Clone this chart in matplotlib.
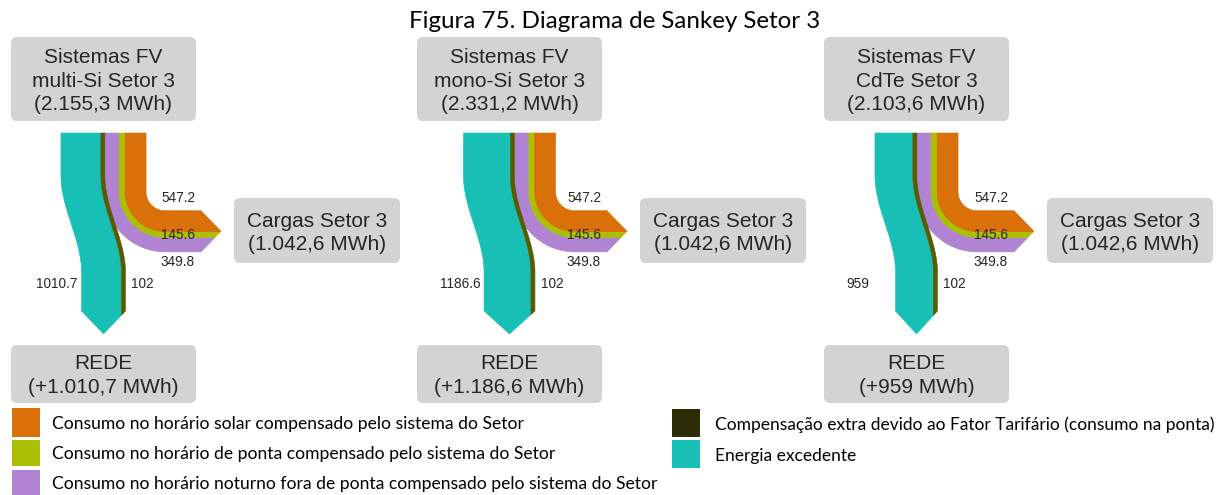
import numpy as np
import matplotlib
matplotlib.use("Agg")
import matplotlib.pyplot as plt
from matplotlib.patches import Polygon, FancyBboxPatch, Rectangle

# ---- data (MWh) ----
title = "Figura 75. Diagrama de Sankey Setor 3"
source_names = ["Sistemas FV\nmulti-Si Setor 3", "Sistemas FV\nmono-Si Setor 3", "Sistemas FV\nCdTe Setor 3"]
generation = [2155.3, 2331.2, 2103.6]
solar_comp = [547.2, 547.2, 547.2]
peak_comp = [145.6, 145.6, 145.6]
night_comp = [349.8, 349.8, 349.8]
tariff_extra = [102, 102, 102]
surplus = [1010.7, 1186.6, 959]
load_name = "Cargas Setor 3"
grid_name = "REDE"

legend_left = ["Consumo no horário solar compensado pelo sistema do Setor",
               "Consumo no horário de ponta compensado pelo sistema do Setor",
               "Consumo no horário noturno fora de ponta compensado pelo sistema do Setor"]
legend_right = ["Compensação extra devido ao Fator Tarifário (consumo na ponta)",
                "Energia excedente"]

# ---- styling ----
C_SOLAR = "#d9700a"
C_PEAK = "#abc000"
C_NIGHT = "#b084d2"
C_EXTRA = "#575b02"
C_EXTRA_LEG = "#2d2e08"
C_SURPLUS = "#17bfb5"
C_BOX = "#d3d3d3"
C_TXT = "#262626"

SANS = ["Liberation Sans", "DejaVu Sans"]
CAL = ["Lato", "DejaVu Sans"]

K = 0.0395            # pixels per MWh
PANEL_X = [11, 417, 824]
BOX_W = 185
Y_TOP = 133           # top of the flows
R_IN = 19             # inner radius of the turn towards the loads
Y_HTOP = 210.7        # upper edge of the horizontal branch
X_END = 190           # end of horizontal branch (relative to panel)
TIP_R = 20
Y1, Y2, Y_END, TIP_D = 176, 272, 311, 23
LEFT_LABEL_DX = [66, 64, 45]


def br(v):
    s = f"{v:,.1f}" if v != int(v) else f"{int(v):,}"
    return s.replace(",", "#").replace(".", ",").replace("#", ".")


def smooth(t):
    t = np.clip(t, 0, 1)
    return t * t * (3 - 2 * t)


fig = plt.figure(figsize=(12.22, 4.95), dpi=100)
ax = fig.add_axes([0, 0, 1, 1])
ax.set_xlim(0, 1222)
ax.set_ylim(495, 0)
ax.axis("off")


def box(x, y, w, h):
    ax.add_patch(FancyBboxPatch((x, y), w, h, boxstyle="round,pad=0,rounding_size=6",
                                fc=C_BOX, ec="none", zorder=1))


def band(path0, path1, kink, color):
    pts = list(path0)
    if kink is not None:
        pts.append(kink)
    pts += list(reversed(path1))
    ax.add_patch(Polygon(pts, closed=True, fc=color, ec=color, lw=0.4, zorder=2))


for i, x0 in enumerate(PANEL_X):
    cx = x0 + BOX_W / 2
    vals_right = [solar_comp[i], peak_comp[i], night_comp[i]]
    cols_right = [C_SOLAR, C_PEAK, C_NIGHT]
    vals_down = [surplus[i], tariff_extra[i]]
    cols_down = [C_SURPLUS, C_EXTRA]
    W = generation[i] * K
    Wr = sum(vals_right) * K
    Wd = sum(vals_down) * K

    # ---- branch to the loads (turns right) ----
    xi = cx + W / 2
    yc = Y_HTOP - R_IN
    cxa = xi + R_IN
    xe = x0 + X_END

    def rpath(s):
        R = R_IN + s
        th = np.linspace(np.pi, np.pi / 2, 50)
        pts = [(xi - s, Y_TOP)]
        pts += list(zip(cxa + R * np.cos(th), yc + R * np.sin(th)))
        f = 1 - abs(s - Wr / 2) / (Wr / 2)
        pts += [(xe, yc + R), (xe + TIP_R * f, yc + R)]
        return pts

    s0 = 0.0
    for v, c in zip(vals_right, cols_right):
        s1 = s0 + v * K
        kink = (xe + TIP_R, yc + R_IN + Wr / 2) if s0 < Wr / 2 < s1 else None
        band(rpath(s0), rpath(s1), kink, c)
        s0 = s1

    # ---- branch to the grid (S-curve down) ----
    xl = cx - W / 2
    shift = (W - Wd) / 2
    ys = np.linspace(Y_TOP, Y_END, 150)

    def dpath(s):
        xs = xl + s + shift * smooth((ys - Y1) / (Y2 - Y1))
        f = 1 - abs(s - Wd / 2) / (Wd / 2)
        return list(zip(xs, ys)) + [(xs[-1], Y_END + TIP_D * f)]

    s0 = 0.0
    for v, c in zip(vals_down, cols_down):
        s1 = s0 + v * K
        kink = (xl + Wd / 2 + shift, Y_END + TIP_D) if s0 < Wd / 2 < s1 else None
        band(dpath(s0), dpath(s1), kink, c)
        s0 = s1

    # ---- nodes ----
    box(x0, 37, BOX_W, 84)
    lines = source_names[i].split("\n") + [f"({br(generation[i])} MWh)"]
    for j, t in enumerate(lines):
        ax.text(cx, 63.3 + 23.3 * j, t, ha="center", va="baseline", fontsize=15,
                family=SANS, color=C_TXT, zorder=3)

    lx = x0 + 223
    box(lx, 198, 166, 65)
    load_total = sum(vals_right)
    ax.text(lx + 83, 226.7, load_name, ha="center", va="baseline", fontsize=15,
            family=SANS, color=C_TXT, zorder=3)
    ax.text(lx + 83, 250, f"({br(load_total)} MWh)", ha="center", va="baseline",
            fontsize=15, family=SANS, color=C_TXT, zorder=3)

    box(x0, 345, BOX_W, 58)
    ax.text(cx, 369.3, grid_name, ha="center", va="baseline", fontsize=15,
            family=SANS, color=C_TXT, zorder=3)
    ax.text(cx, 392.7, f"(+{br(surplus[i])} MWh)", ha="center", va="baseline",
            fontsize=15, family=SANS, color=C_TXT, zorder=3)

    # ---- flow values ----
    for v, yv in zip(vals_right, [198, 235, 262]):
        ax.text(x0 + 167, yv, f"{v:g}", ha="center", va="center", fontsize=9.8,
                family=SANS, color=C_TXT, zorder=4)
    ax.text(x0 + LEFT_LABEL_DX[i], 284, f"{surplus[i]:g}", ha="right", va="center",
            fontsize=9.8, family=SANS, color=C_TXT, zorder=4)
    ax.text(cx + Wd / 2 + 6, 284, f"{tariff_extra[i]:g}", ha="left", va="center",
            fontsize=9.8, family=SANS, color=C_TXT, zorder=4)

# ---- title ----
ax.text(615, 28, title, ha="center", va="baseline", fontsize=17.4, family=CAL, color="black")

# ---- legend ----
for (y0, y1), lab, c in zip([(408, 437), (440, 466), (470, 495)], legend_left,
                            [C_SOLAR, C_PEAK, C_NIGHT]):
    ax.add_patch(Rectangle((12, y0), 28, y1 - y0, fc=c, ec="none"))
    ax.text(52, (y0 + y1) / 2 + 1, lab, ha="left", va="center", fontsize=12.6,
            family=CAL, color="black")
for (y0, y1), lab, c in zip([(409, 437), (440, 468)], legend_right,
                            [C_EXTRA_LEG, C_SURPLUS]):
    ax.add_patch(Rectangle((672, y0), 28, y1 - y0, fc=c, ec="none"))
    ax.text(715, (y0 + y1) / 2 + 2, lab, ha="left", va="center", fontsize=12.5,
            family=CAL, color="black")

fig.savefig("out.png", dpi=100)
